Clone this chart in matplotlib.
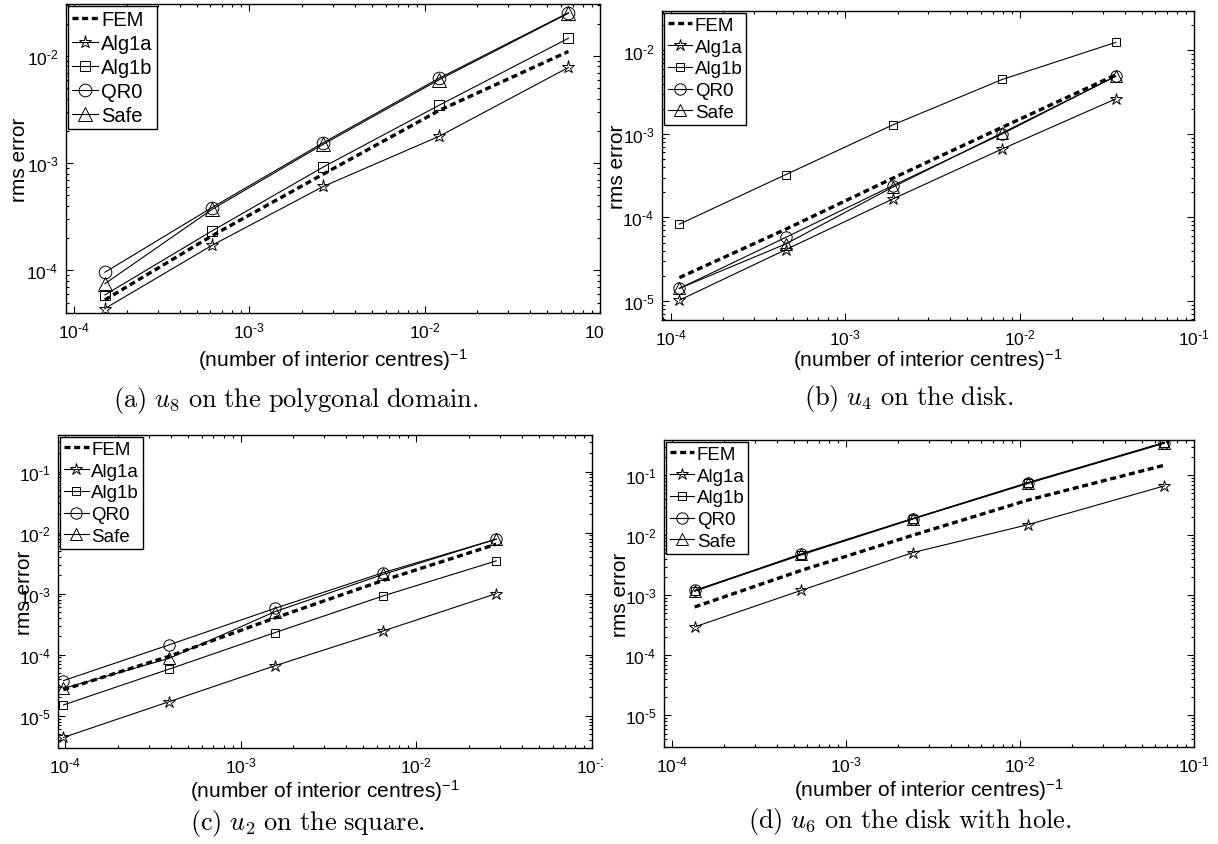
import matplotlib
matplotlib.use("Agg")
import matplotlib.pyplot as plt
from matplotlib.ticker import LogLocator, NullFormatter, FuncFormatter
from matplotlib.transforms import Bbox, TransformedBbox
import numpy as np

plt.rcParams['font.family'] = ['Liberation Sans', 'DejaVu Sans']
plt.rcParams['mathtext.fontset'] = 'custom'
plt.rcParams['mathtext.rm'] = 'Liberation Sans'
plt.rcParams['mathtext.it'] = 'Liberation Sans:italic'
plt.rcParams['mathtext.bf'] = 'Liberation Sans:bold'

# ---- data -------------------------------------------------------------------
labels = ['FEM', 'Alg1a', 'Alg1b', 'QR0', 'Safe']

# (a) u8 on the polygonal domain
x_a = [1.50e-4, 6.12e-4, 2.64e-3, 1.21e-2, 6.6e-2]
fem_a = [5.3e-5, 2.1e-4, 7.9e-4, 3.1e-3, 1.1e-2]
alg1a_a = [4.4e-5, 1.71e-4, 6.06e-4, 1.78e-3, 7.8e-3]
alg1b_a = [5.9e-5, 2.33e-4, 9.2e-4, 3.47e-3, 1.46e-2]
qr0_a = [9.6e-5, 3.85e-4, 1.55e-3, 6.2e-3, 2.53e-2]
safe_a = [7.5e-5, 3.7e-4, 1.5e-3, 6.0e-3, 2.5e-2]

# (b) u4 on the disk
x_b = [1.12e-4, 4.55e-4, 1.87e-3, 7.94e-3, 3.56e-2]
fem_b = [1.9e-5, 7.2e-5, 2.94e-4, 1.2e-3, 5.1e-3]
alg1a_b = [1.02e-5, 4.1e-5, 1.66e-4, 6.6e-4, 2.63e-3]
alg1b_b = [8.3e-5, 3.25e-4, 1.28e-3, 4.49e-3, 1.25e-2]
qr0_b = [1.41e-5, 5.75e-5, 2.4e-4, 1.0e-3, 4.92e-3]
safe_b = [1.41e-5, 4.8e-5, 2.3e-4, 1.03e-3, 4.9e-3]

# (c) u2 on the square
x_c = [9.8e-5, 3.92e-4, 1.57e-3, 6.49e-3, 2.85e-2]
fem_c = [2.67e-5, 9.4e-5, 4.0e-4, 1.65e-3, 6.45e-3]
alg1a_c = [4.4e-6, 1.7e-5, 6.6e-5, 2.45e-4, 1.0e-3]
alg1b_c = [1.5e-5, 5.8e-5, 2.3e-4, 9.2e-4, 3.44e-3]
qr0_c = [3.75e-5, 1.45e-4, 5.75e-4, 2.21e-3, 7.8e-3]
safe_c = [2.8e-5, 8.7e-5, 5.07e-4, 2.07e-3, 7.8e-3]

# (d) u6 on the disk with hole
x_d = [1.35e-4, 5.53e-4, 2.42e-3, 1.11e-2, 6.76e-2]
fem_d = [6.4e-4, 2.6e-3, 1.0e-2, 3.85e-2, 0.147]
alg1a_d = [2.98e-4, 1.21e-3, 5.15e-3, 1.5e-2, 6.65e-2]
alg1b_d = [1.18e-3, 4.7e-3, 1.86e-2, 7.3e-2, 0.34]
qr0_d = [1.21e-3, 4.83e-3, 1.89e-2, 7.55e-2, 0.35]
safe_d = [1.17e-3, 4.9e-3, 1.9e-2, 7.4e-2, 0.35]

captions = [r"$\mathrm{(a)}\ u_8\ \mathrm{on\ the\ polygonal\ domain.}$",
            r"$\mathrm{(b)}\ u_4\ \mathrm{on\ the\ disk.}$",
            r"$\mathrm{(c)}\ u_2\ \mathrm{on\ the\ square.}$",
            r"$\mathrm{(d)}\ u_6\ \mathrm{on\ the\ disk\ with\ hole.}$"]

# ---- figure -----------------------------------------------------------------
W, H = 1218, 845
fig = plt.figure(figsize=(W / 100, H / 100), dpi=100)


def px_axes(l, t, r, b):
    return fig.add_axes([l / W, 1 - b / H, (r - l) / W, (b - t) / H])


def fig_box(x0, x1):
    return TransformedBbox(Bbox.from_extents(x0 / W, 0, x1 / W, 1),
                           fig.transFigure)


def decade_label(v, pos):
    # Matlab style 10^-n with a short dash in the exponent
    n = int(round(np.log10(v)))
    if n < 0:
        return '$\\mathdefault{10^{\u2010%d}}$' % (-n)
    return '$\\mathdefault{10^{%d}}$' % n


def draw_panel(ax, x, fem, a1, b1, q0, sf, xlim, ylim, big=False):
    # marker sizes differ a little between the sub-pictures
    if big:
        ms = dict(star=9.5, sq=6.8, circ=9.1, tri=9.4)
        legsize = 14.5
    else:
        ms = dict(star=8.8, sq=6.2, circ=8.2, tri=8.8)
        legsize = 13.5
    common = dict(color='k', lw=0.8, mfc='none', mew=0.7)
    ax.plot(x, fem, color='k', lw=2.4, dashes=(1.8, 1.1), label=labels[0])
    ax.plot(x, a1, marker='*', ms=ms['star'], label=labels[1], **common)
    ax.plot(x, b1, marker='s', ms=ms['sq'], label=labels[2], **common)
    ax.plot(x, q0, marker='o', ms=ms['circ'], label=labels[3], **common)
    ax.plot(x, sf, marker='^', ms=ms['tri'], label=labels[4], **common)
    ax.set_xscale('log')
    ax.set_yscale('log')
    ax.set_xlim(*xlim)
    ax.set_ylim(*ylim)
    for axis in (ax.xaxis, ax.yaxis):
        axis.set_major_locator(LogLocator(base=10, numticks=100))
        axis.set_minor_locator(LogLocator(base=10, subs=range(2, 10),
                                          numticks=100))
        axis.set_major_formatter(FuncFormatter(decade_label))
        axis.set_minor_formatter(NullFormatter())
    ax.tick_params(which='both', direction='in', top=True, right=True,
                   width=0.8, labelsize=12.5, pad=5.5)
    ax.tick_params(which='major', length=5)
    ax.tick_params(which='minor', length=2.5)
    for sp in ax.spines.values():
        sp.set_linewidth(1.0)
    leg = ax.legend(loc='upper left', fontsize=legsize, frameon=True,
                    fancybox=False, framealpha=1, edgecolor='k',
                    borderpad=0.2, labelspacing=0.25, handlelength=1.3,
                    handletextpad=0.15, borderaxespad=0.1, numpoints=1)
    leg.get_frame().set_linewidth(1.0)
    ax.set_xlabel(r'(number of interior centres)$^{-1}$', fontsize=15)
    ax.set_ylabel('rms error', fontsize=15)
    ax.xaxis.label.set_va('center')


ax_a = px_axes(66, 5, 600, 314)
ax_b = px_axes(662, 12, 1194, 321)
ax_c = px_axes(58.5, 436, 592, 749)
ax_d = px_axes(664, 441, 1194, 748)

draw_panel(ax_a, x_a, fem_a, alg1a_a, alg1b_a, qr0_a, safe_a,
           (9.0e-5, 0.1), (4.0e-5, 3.05e-2), big=True)
draw_panel(ax_b, x_b, fem_b, alg1a_b, alg1b_b, qr0_b, safe_b,
           (8.9e-5, 0.1), (5.9e-6, 2.97e-2))
draw_panel(ax_c, x_c, fem_c, alg1a_c, alg1b_c, qr0_c, safe_c,
           (9.2e-5, 0.1), (2.96e-6, 0.397))
draw_panel(ax_d, x_d, fem_d, alg1a_d, alg1b_d, qr0_d, safe_d,
           (9.0e-5, 0.1), (2.98e-6, 0.386))

# label positions (axes fractions)
ax_a.yaxis.set_label_coords(-0.070, 0.5)
ax_b.yaxis.set_label_coords(-0.066, 0.5)
ax_c.yaxis.set_label_coords(-0.045, 0.5)
ax_d.yaxis.set_label_coords(-0.064, 0.5)
ax_a.xaxis.set_label_coords(0.5, -0.149)
ax_b.xaxis.set_label_coords(0.5, -0.127)
ax_c.xaxis.set_label_coords(0.5, -0.134)
ax_d.xaxis.set_label_coords(0.5, -0.137)

# the sub-pictures were cropped at their edges in the source
ax_a.yaxis.label.set_clip_on(True)
ax_a.yaxis.label.set_clip_box(fig_box(13, W))
ax_b.yaxis.label.set_clip_on(True)
ax_b.yaxis.label.set_clip_box(fig_box(611, W))
for ax, edge in ((ax_a, 605), (ax_c, 603)):
    for t in ax.xaxis.get_major_ticks():
        t.label1.set_clip_on(True)
        t.label1.set_clip_box(fig_box(0, edge))

cap_pos = [(296, 401), (909, 398), (307, 824), (910, 822)]
for (cx, cy), txt in zip(cap_pos, captions):
    fig.text(cx / W, 1 - cy / H, txt, ha='center', va='center',
             fontsize=19, math_fontfamily='cm')

fig.savefig('out.png', dpi=100)
